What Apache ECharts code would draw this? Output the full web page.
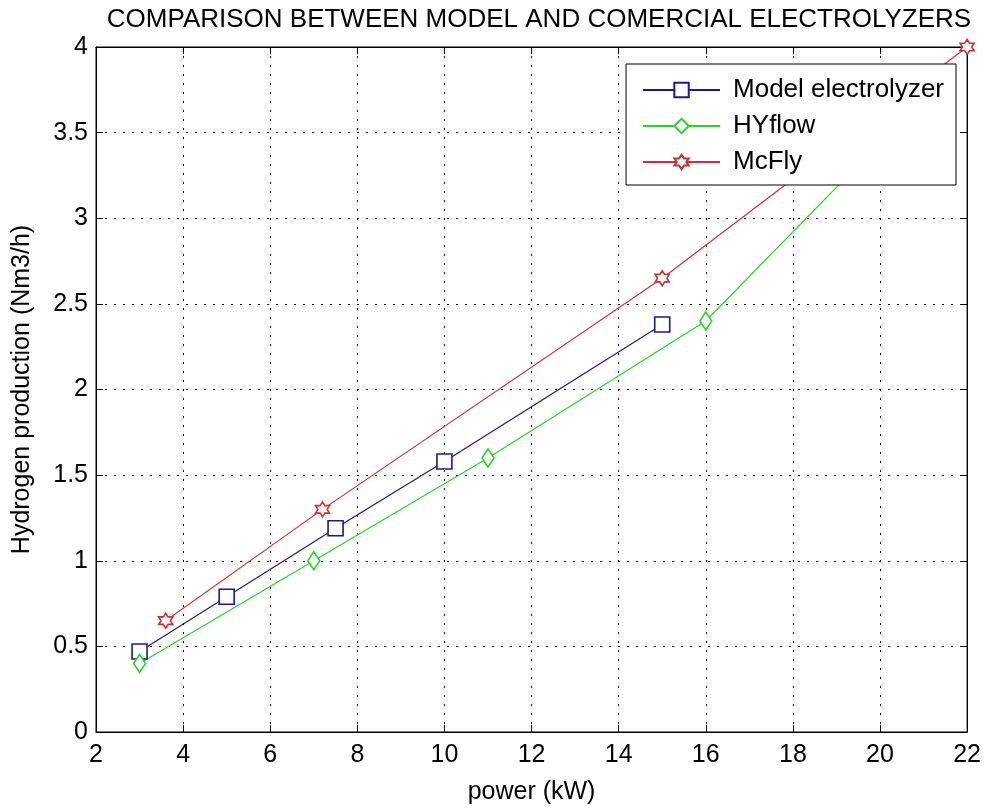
<!DOCTYPE html>
<html><head><meta charset="utf-8">
<script src="https://cdn.jsdelivr.net/npm/echarts@6/dist/echarts.min.js"></script>
<style>html,body{margin:0;padding:0;background:#fff}#c{width:984px;height:810px}</style>
</head><body><div id="c"></div>
<script>
const titleText = 'COMPARISON BETWEEN MODEL AND COMERCIAL ELECTROLYZERS';
const xName = 'power (kW)';
const yName = 'Hydrogen production (Nm3/h)';
const modelX = [3, 5, 7.5, 10, 15];
const modelY = [0.47, 0.79, 1.19, 1.58, 2.38];
const hyflowX = [3, 7, 11, 16, 20];
const hyflowY = [0.40, 1.00, 1.60, 2.40, 3.44];
const mcflyX = [3.6, 7.2, 15, 22];
const mcflyY = [0.65, 1.30, 2.65, 4.00];
const seriesNames = ['Model electrolyzer', 'HYflow', 'McFly'];
const colors = ['#1a1a8c', '#2fcf2f', '#c43434'];

const hexagram = 'path://M0,-10 L2.9,-5 L8.66,-5 L5.8,0 L8.66,5 L2.9,5 L0,10 L-2.9,5 L-8.66,5 L-5.8,0 L-8.66,-5 L-2.9,-5 Z';
const symbols = ['rect', 'diamond', hexagram];
const symbolSizes = [[15, 15], [12, 18], [14, 15]];

function pairs(xs, ys) { return xs.map((x, i) => [x, ys[i]]); }
const datas = [pairs(modelX, modelY), pairs(hyflowX, hyflowY), pairs(mcflyX, mcflyY)];

const font = 'Liberation Sans, Arial, sans-serif';
const gridLine = { show: true, lineStyle: { color: '#000', type: [2, 7], width: 1 } };
const axisLbl = { color: '#000', fontSize: 25, fontFamily: font };

const chart = echarts.init(document.getElementById('c'), null, { renderer: 'canvas' });
chart.setOption({
  backgroundColor: '#fff',
  animation: false,
  title: { text: titleText, left: 534, top: 2, textAlign: 'center',
    textStyle: { fontSize: 26, fontWeight: 'normal', color: '#000', fontFamily: font } },
  grid: { left: 96, right: 10, top: 47, bottom: 75, show: true, borderColor: '#000', borderWidth: 1, backgroundColor: '#fff' },
  legend: {
    right: 28, top: 64, orient: 'vertical', itemWidth: 77, itemHeight: 18, itemGap: 8,
    padding: [12, 12, 9, 16], backgroundColor: '#fff', borderColor: '#000', borderWidth: 1,
    textStyle: { fontSize: 26, lineHeight: 28, color: '#000', fontFamily: font, padding: [0, 0, 0, 8] },
    data: seriesNames, z: 10
  },
  xAxis: [
    { type: 'value', min: 2, max: 22, interval: 2, name: xName, nameLocation: 'middle', nameGap: 48,
      nameTextStyle: { fontSize: 25, color: '#000', fontFamily: font },
      axisLine: { show: true, onZero: false, lineStyle: { color: '#000' } },
      axisTick: { show: true, inside: true, length: 7, lineStyle: { color: '#000' } },
      axisLabel: Object.assign({ margin: 11 }, axisLbl), splitLine: gridLine },
    { type: 'value', position: 'top', min: 2, max: 22, interval: 2,
      axisLine: { show: true, onZero: false, lineStyle: { color: '#000' } },
      axisTick: { show: true, inside: true, length: 7, lineStyle: { color: '#000' } },
      axisLabel: { show: false }, splitLine: { show: false } }
  ],
  yAxis: [
    { type: 'value', min: 0, max: 4, interval: 0.5, name: yName, nameLocation: 'middle', nameGap: 61,
      nameTextStyle: { fontSize: 25, color: '#000', fontFamily: font },
      axisLine: { show: true, onZero: false, lineStyle: { color: '#000' } },
      axisTick: { show: true, inside: true, length: 7, lineStyle: { color: '#000' } },
      axisLabel: Object.assign({ margin: 8 }, axisLbl), splitLine: gridLine },
    { type: 'value', position: 'right', min: 0, max: 4, interval: 0.5,
      axisLine: { show: true, onZero: false, lineStyle: { color: '#000' } },
      axisTick: { show: true, inside: true, length: 7, lineStyle: { color: '#000' } },
      axisLabel: { show: false }, splitLine: { show: false } }
  ],
  series: seriesNames.map((n, i) => ({
    name: n, type: 'line', data: datas[i], xAxisIndex: 0, yAxisIndex: 0,
    symbol: symbols[i], symbolSize: symbolSizes[i], showAllSymbol: true,
    lineStyle: { color: colors[i], width: 1.2 },
    itemStyle: { color: '#fff', borderColor: colors[i], borderWidth: 1.6 },
    z: 2
  }))
});
</script></body></html>
